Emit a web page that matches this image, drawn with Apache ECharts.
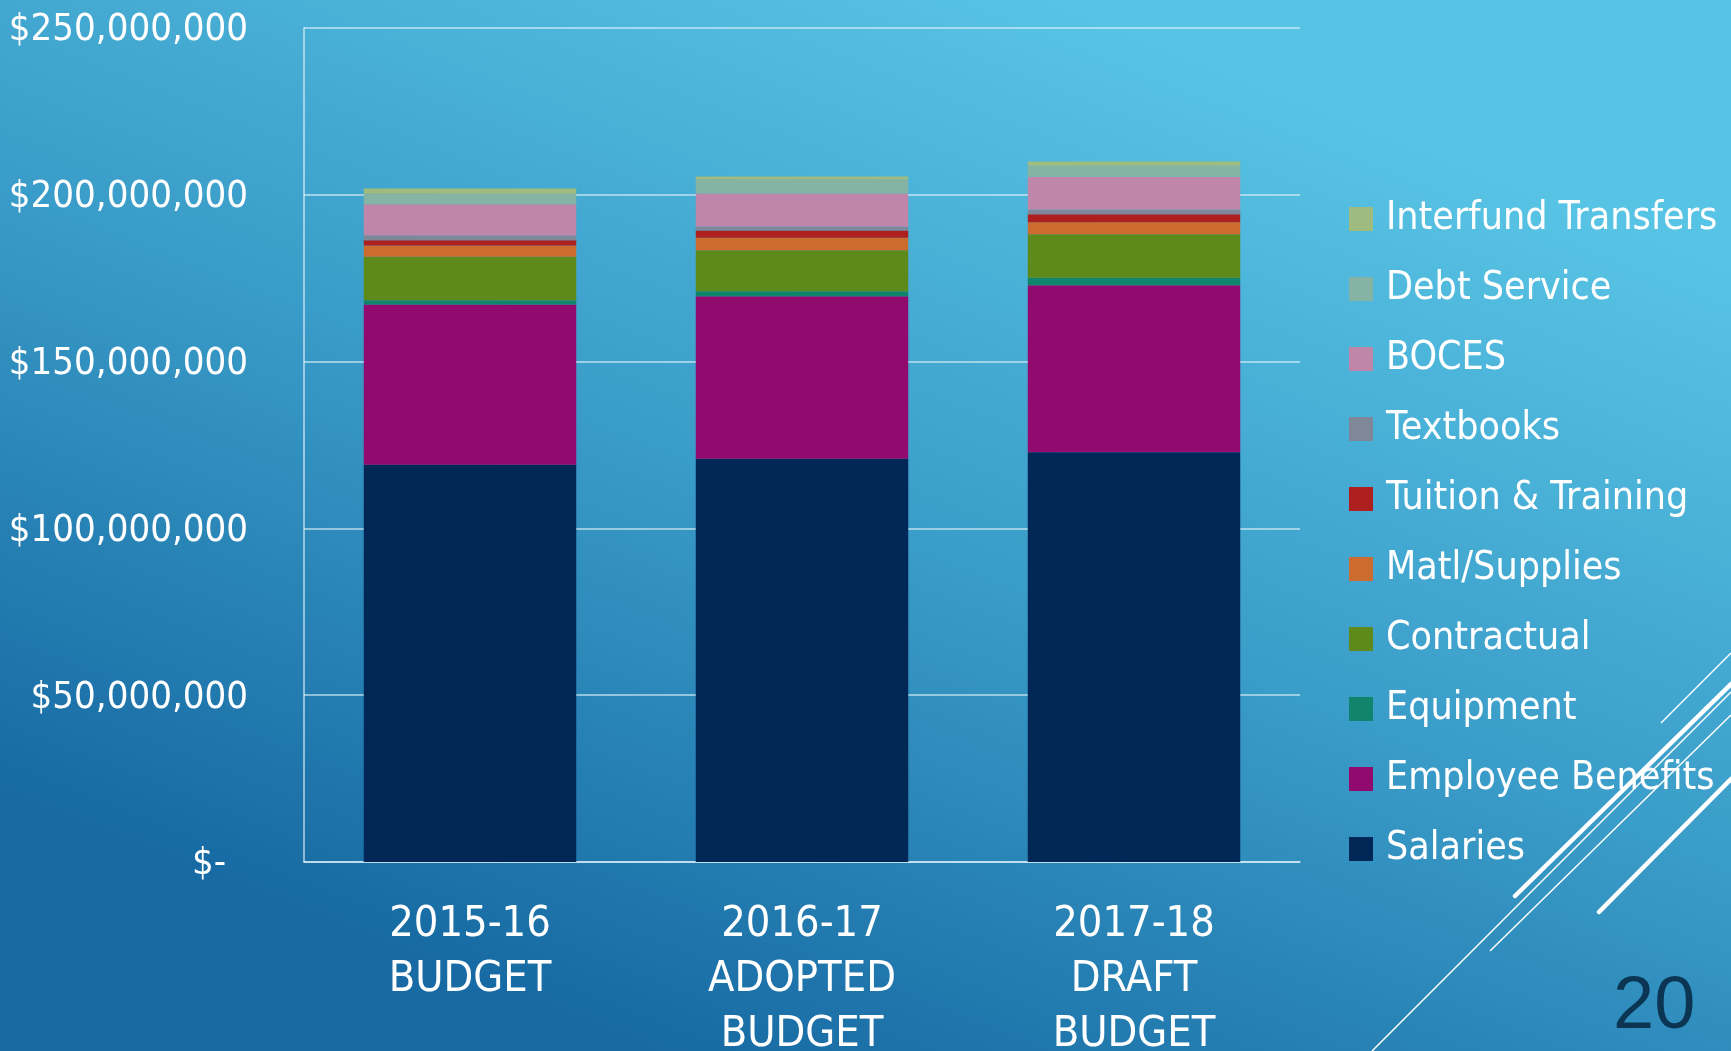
<!DOCTYPE html>
<html>
<head>
<meta charset="utf-8">
<title>Budget by category</title>
<script src="https://cdn.jsdelivr.net/npm/echarts@6/dist/echarts.min.js"></script>
<style>
  html, body { margin: 0; padding: 0; }
  #main { width: 1731px; height: 1051px; }
</style>
</head>
<body>
<div id="main"></div>
<script>
// categories (x axis)
var years = ['2015-16\nBUDGET', '2016-17\nADOPTED\nBUDGET', '2017-18\nDRAFT\nBUDGET']

// values, in dollars
var salaries = [119100000, 120900000, 122800000]
var benefits = [48000000, 48700000, 50100000]
var equipment = [1300000, 1500000, 2200000]
var contractual = [13000000, 12300000, 13100000]
var supplies = [3400000, 3700000, 3600000]
var tuition = [1600000, 2200000, 2400000]
var textbooks = [1400000, 1200000, 1400000]
var boces = [9400000, 9900000, 9800000]
var debt = [3100000, 4200000, 3300000]
var interfund = [1600000, 900000, 1300000]

var seriesNames = ['Salaries', 'Employee Benefits', 'Equipment', 'Contractual', 'Matl/Supplies',
  'Tuition & Training', 'Textbooks', 'BOCES', 'Debt Service', 'Interfund Transfers']
var seriesData = [salaries, benefits, equipment, contractual, supplies, tuition, textbooks, boces, debt, interfund]
var colors = ['#002755', '#910b6e', '#11846c', '#5e8a1b', '#cc6d2f',
  '#ae1f1f', '#7f8799', '#c086a9', '#86b4a4', '#9fbb80']

var font = '"Liberation Sans Narrow", "DejaVu Sans Condensed", "Arial Narrow", sans-serif'

var series = seriesNames.map(function (name, i) {
  return {
    name: name,
    type: 'bar',
    stack: 'total',
    barWidth: '64%',
    itemStyle: { color: colors[i] },
    emphasis: { disabled: true },
    data: seriesData[i]
  }
})

var myChart = echarts.init(document.getElementById('main'))

var option = {
  animation: false,
  backgroundColor: new echarts.graphic.LinearGradient(0.62, 0, 0.38, 1, [
    { offset: 0, color: '#58c4e5' },
    { offset: 0.5, color: '#3a9cc8' },
    { offset: 1, color: '#176aa3' }
  ]),
  color: colors,
  grid: { left: 304, right: 431, top: 28, bottom: 189, outerBoundsMode: 'none' },
  legend: {
    orient: 'vertical',
    left: 1344,
    top: 194,
    itemWidth: 24,
    itemHeight: 24,
    itemGap: 30,
    icon: 'rect',
    data: seriesNames.slice().reverse(),
    textStyle: {
      color: '#ffffff',
      fontFamily: font,
      fontSize: 39,
      lineHeight: 40,
      padding: [0, 0, 0, 8]
    }
  },
  xAxis: {
    type: 'category',
    data: years,
    axisLine: { lineStyle: { color: 'rgba(230,245,252,0.75)', width: 1.5 } },
    axisTick: { show: false },
    axisLabel: {
      color: '#ffffff',
      fontFamily: font,
      fontSize: 43,
      lineHeight: 55,
      margin: 35
    }
  },
  yAxis: {
    type: 'value',
    min: 0,
    max: 250000000,
    interval: 50000000,
    axisLine: { show: true, lineStyle: { color: 'rgba(230,245,252,0.75)', width: 1.5 } },
    splitLine: { lineStyle: { color: 'rgba(230,245,252,0.75)', width: 1.5 } },
    axisLabel: {
      color: '#ffffff',
      fontFamily: font,
      fontSize: 38,
      margin: 56,
      padding: [5, 0, 0, 0],
      formatter: function (v) {
        if (v === 0) return '{z|$-}'
        return '$' + v.toLocaleString('en-US')
      },
      rich: {
        z: { color: '#ffffff', fontFamily: font, fontSize: 38, padding: [0, 22, 0, 0] }
      }
    }
  },
  // slide decoration and page number
  graphic: [
    { type: 'line', shape: { x1: 1372, y1: 1051, x2: 1731, y2: 692 }, style: { stroke: '#ffffff', lineWidth: 1.5 } },
    { type: 'line', shape: { x1: 1490, y1: 951, x2: 1731, y2: 715 }, style: { stroke: '#ffffff', lineWidth: 1.5 } },
    { type: 'line', shape: { x1: 1515, y1: 896, x2: 1731, y2: 684 }, style: { stroke: '#ffffff', lineWidth: 4.5, lineCap: 'round' } },
    { type: 'line', shape: { x1: 1599, y1: 912, x2: 1731, y2: 779 }, style: { stroke: '#ffffff', lineWidth: 4.5, lineCap: 'round' } },
    { type: 'line', shape: { x1: 1661, y1: 723, x2: 1731, y2: 653 }, style: { stroke: '#ffffff', lineWidth: 1.5 } },
    {
      type: 'text',
      left: 1613,
      top: 971,
      style: { text: '20', fill: '#0b3552', font: '74px "Liberation Sans", sans-serif' }
    }
  ],
  series: series
}

myChart.setOption(option)
</script>
</body>
</html>
